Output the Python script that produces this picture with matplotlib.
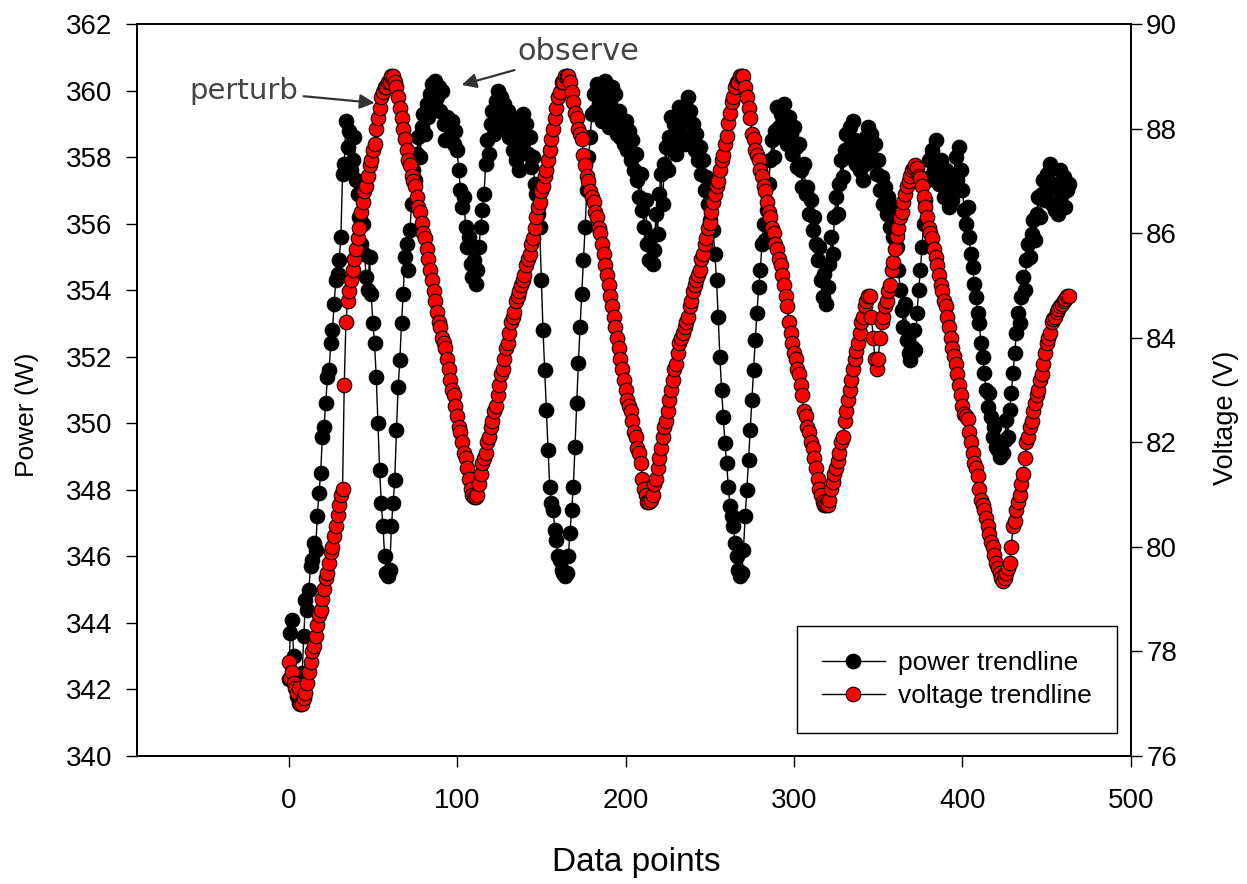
"""Power / voltage trendlines of a perturb-and-observe MPPT run."""

import matplotlib

matplotlib.use("Agg")
import matplotlib.pyplot as plt

NARROW = ["Liberation Sans Narrow", "Liberation Sans", "DejaVu Sans"]
REGULAR = ["Liberation Sans", "DejaVu Sans"]

# power (W), one value per data point
POWER = [
    342.3, 343.7, 344.1, 343.0, 342.2, 341.8, 341.6, 341.7, 342.5, 343.6,
    344.7, 344.4, 345.0, 345.7, 345.9, 346.4, 346.2, 347.2, 347.9, 348.5,
    349.6, 349.9, 350.6, 351.4, 351.6, 352.4, 352.8, 353.6, 354.3, 354.5,
    354.9, 355.6, 357.5, 357.8, 359.1, 358.3, 358.8, 357.6, 357.9, 358.6,
    357.3, 356.9, 356.2, 355.4, 356.0, 355.1, 354.4, 354.0, 355.0, 353.9,
    353.0, 352.4, 351.4, 350.0, 348.6, 347.6, 346.9, 346.0, 345.5, 345.4,
    345.6, 346.9, 347.6, 348.3, 349.8, 351.1, 351.9, 353.0, 353.9, 355.0,
    355.4, 354.6, 355.8, 356.6, 357.6, 357.3, 358.1, 358.6, 358.0, 358.9,
    359.3, 358.7, 359.6, 359.2, 359.9, 360.2, 359.5, 360.3, 359.8, 360.1,
    359.4, 360.0, 359.0, 358.5, 359.2, 359.0, 358.6, 359.1, 358.4, 358.8,
    358.2, 357.6, 357.0, 356.5, 356.8, 355.9, 355.3, 355.6, 354.8, 354.4,
    354.9, 354.2, 354.6, 355.3, 355.9, 356.4, 356.9, 357.8, 358.5, 358.1,
    359.0, 359.4, 358.7, 359.7, 360.0, 359.2, 359.8, 359.1, 359.6, 358.9,
    359.4, 358.6, 359.2, 358.2, 358.8, 357.9, 358.4, 357.6, 358.9, 359.3,
    358.5, 359.0, 358.1, 358.6, 357.7, 358.0, 357.2, 356.9, 356.3, 355.9,
    354.3, 352.8, 351.6, 350.4, 349.2, 348.1, 347.6, 347.4, 346.8, 346.5,
    346.0, 345.9, 345.6, 345.5, 345.4, 345.5, 346.0, 346.7, 347.4, 348.1,
    349.3, 350.6, 351.8, 352.9, 353.9, 354.9, 355.9, 357.0, 358.0, 358.6,
    359.3, 359.9, 359.4, 360.2, 359.6, 360.0, 359.1, 359.8, 360.3, 359.5,
    358.9, 359.7, 360.1, 359.2, 359.9, 358.7, 359.4, 358.6, 359.0, 358.4,
    359.1, 358.2, 358.8, 357.9, 358.5, 357.6, 358.1, 357.3, 356.8, 357.5,
    356.4, 355.9, 356.7, 355.4, 354.9, 355.6, 354.8, 355.2, 356.3, 355.7,
    356.9, 357.5, 356.6, 357.8, 358.3, 357.6, 358.6, 359.2, 358.5, 359.0,
    358.1, 358.8, 359.5, 358.7, 359.3, 358.4, 359.1, 359.8, 359.4, 358.6,
    359.0, 358.2, 358.7, 357.9, 358.3, 357.5, 357.9, 357.0, 357.4, 356.6,
    356.1, 356.8, 355.8, 355.1, 354.3, 353.2, 352.0, 351.0, 350.2, 349.4,
    348.8, 348.1, 347.5, 347.2, 346.9, 346.4, 346.0, 345.6, 345.4, 345.5,
    346.2, 347.2, 348.0, 348.9, 349.8, 350.7, 351.6, 352.5, 353.3, 354.1,
    354.6, 355.4, 356.0, 355.5, 356.4, 357.2, 357.9, 358.5, 358.0, 358.8,
    359.5, 358.9, 359.3, 358.6, 359.6, 359.0, 358.4, 359.2, 358.7, 358.1,
    358.9, 358.3, 357.7, 358.4, 357.6, 357.1, 357.8, 356.9, 357.1, 356.3,
    356.7, 355.8, 356.2, 355.4, 354.9, 355.3, 354.3, 353.8, 354.5, 353.6,
    354.1, 354.8, 355.6, 355.1, 356.2, 356.8, 356.3, 357.2, 357.9, 357.4,
    358.2, 358.7, 358.0, 358.9, 358.4, 359.1, 358.5, 357.8, 358.3, 357.6,
    358.0, 357.3, 357.8, 358.6, 358.9, 358.2, 358.7, 357.9, 358.4, 357.5,
    357.9, 357.0, 357.4, 356.6, 357.1, 356.3, 356.8, 355.9, 356.5, 355.6,
    356.2, 355.3, 354.6, 354.0, 353.4, 352.9, 353.6, 352.5, 352.1, 351.9,
    352.3, 352.8, 352.2, 353.3, 354.0, 354.6, 355.3, 356.0, 356.7, 357.3,
    357.9, 357.4, 358.2, 357.6, 358.5, 357.8, 357.2, 357.9, 357.3, 356.8,
    357.6, 357.0, 356.5, 357.2, 356.7, 357.5, 358.0, 357.3, 358.3, 357.6,
    357.0, 356.4, 356.0, 356.5, 355.6, 355.1, 354.7, 354.2, 353.8, 353.3,
    353.0, 352.4, 352.0, 351.5, 351.0, 350.5, 350.9, 350.2, 349.6, 349.9,
    349.3, 349.2, 349.0, 349.4, 349.1, 349.5, 350.1, 349.6, 350.4, 350.9,
    351.5, 352.1, 352.7, 353.3, 353.0, 353.8, 354.4, 354.0, 354.9, 355.4,
    355.0, 355.7, 356.1, 355.5, 356.3, 356.8, 356.2, 356.9, 357.3, 356.7,
    357.5, 357.0, 357.8, 356.6, 357.2, 356.4, 357.1, 356.3, 357.6, 356.9,
    357.4, 356.5, 357.0, 357.2,
]

# voltage (V), one value per data point
VOLTAGE = [
    77.8, 77.5, 77.6, 77.4, 77.3, 77.2, 77.3, 77.0, 77.0, 77.1,
    77.2, 77.4, 77.6, 77.8, 78.0, 78.1, 78.3, 78.5, 78.7, 78.8,
    79.0, 79.2, 79.4, 79.5, 79.7, 79.9, 80.0, 80.2, 80.4, 80.6,
    80.8, 81.0, 81.1, 83.1, 84.3, 84.7, 84.9, 85.1, 85.3, 85.5,
    85.7, 85.9, 86.1, 86.4, 86.6, 86.8, 86.9, 87.1, 87.3, 87.4,
    87.6, 87.7, 88.0, 88.2, 88.4, 88.6, 88.7, 88.8, 88.8, 88.9,
    88.9, 89.0, 89.0, 88.9, 88.8, 88.6, 88.4, 88.2, 88.0, 87.8,
    87.6, 87.4, 87.3, 87.1, 87.0, 86.9, 86.7, 86.5, 86.4, 86.2,
    86.0, 85.9, 85.7, 85.5, 85.3, 85.1, 84.9, 84.7, 84.5, 84.3,
    84.2, 84.0, 83.9, 83.8, 83.6, 83.4, 83.2, 83.0, 82.9, 82.7,
    82.5, 82.3, 82.2, 82.0, 81.8, 81.7, 81.5, 81.3, 81.1, 81.0,
    80.95, 80.95, 81.0, 81.2, 81.4, 81.6, 81.7, 81.8, 82.0, 82.1,
    82.3, 82.4, 82.6, 82.7, 82.9, 83.1, 83.3, 83.4, 83.6, 83.8,
    83.9, 84.1, 84.3, 84.4, 84.5, 84.7, 84.8, 84.9, 85.0, 85.1,
    85.2, 85.4, 85.5, 85.6, 85.8, 85.9, 86.1, 86.3, 86.5, 86.6,
    86.8, 86.9, 87.1, 87.2, 87.4, 87.6, 87.8, 88.0, 88.2, 88.4,
    88.6, 88.7, 88.9, 88.9, 89.0, 89.0, 89.0, 88.9, 88.7, 88.5,
    88.3, 88.2, 88.0, 87.9, 87.8, 87.5, 87.3, 87.1, 87.0, 86.8,
    86.7, 86.6, 86.4, 86.3, 86.1, 86.0, 85.8, 85.6, 85.4, 85.2,
    85.0, 84.8, 84.6, 84.4, 84.2, 84.0, 83.8, 83.6, 83.4, 83.2,
    83.0, 82.8, 82.7, 82.6, 82.4, 82.2, 82.1, 81.9, 81.8, 81.6,
    81.3, 81.1, 81.0, 80.85, 80.85, 80.9, 81.0, 81.2, 81.3, 81.5,
    81.7, 81.9, 82.1, 82.3, 82.4, 82.6, 82.8, 83.0, 83.2, 83.4,
    83.5, 83.7, 83.9, 84.0, 84.1, 84.2, 84.3, 84.4, 84.6, 84.7,
    84.9, 85.0, 85.1, 85.2, 85.3, 85.5, 85.6, 85.8, 85.9, 86.1,
    86.2, 86.4, 86.6, 86.75, 86.9, 87.0, 87.2, 87.4, 87.5, 87.7,
    87.85, 88.1, 88.3, 88.5, 88.6, 88.8, 88.9, 88.9, 89.0, 89.0,
    89.0, 88.8, 88.6, 88.4, 88.2, 87.9, 87.8, 87.6, 87.5, 87.4,
    87.2, 87.1, 86.9, 86.8, 86.6, 86.4, 86.3, 86.1, 86.0, 85.8,
    85.7, 85.5, 85.4, 85.2, 85.0, 84.8, 84.6, 84.3, 84.1, 83.9,
    83.7, 83.6, 83.4, 83.3, 83.1, 82.9, 82.6, 82.5, 82.3, 82.2,
    82.0, 81.9, 81.7, 81.5, 81.3, 81.1, 81.0, 80.85, 80.8, 80.8,
    80.8, 80.9, 81.1, 81.25, 81.4, 81.5, 81.65, 81.8, 82.0, 82.1,
    82.4, 82.6, 82.8, 83.0, 83.2, 83.4, 83.6, 83.75, 83.9, 84.1,
    84.3, 84.4, 84.6, 84.7, 84.8, 84.8, 84.4, 84.0, 83.6, 83.4,
    83.6, 84.0, 84.3, 84.4, 84.6, 84.7, 84.9, 85.0, 85.3, 85.45,
    85.7, 85.95, 86.1, 86.3, 86.4, 86.6, 86.75, 86.9, 87.0, 87.1,
    87.2, 87.25, 87.3, 87.25, 87.1, 87.05, 86.9, 86.7, 86.5, 86.3,
    86.1, 86.0, 85.9, 85.7, 85.55, 85.4, 85.2, 85.0, 84.9, 84.7,
    84.6, 84.4, 84.2, 84.0, 83.8, 83.65, 83.5, 83.3, 83.1, 82.9,
    82.7, 82.55, 82.5, 82.45, 82.2, 82.0, 81.8, 81.6, 81.5, 81.35,
    81.1, 80.9, 80.8, 80.7, 80.55, 80.4, 80.25, 80.1, 80.0, 79.85,
    79.7, 79.6, 79.5, 79.4, 79.35, 79.4, 79.5, 79.6, 79.7, 80.0,
    80.4, 80.5, 80.7, 80.85, 81.0, 81.2, 81.4, 81.7, 82.0, 82.1,
    82.3, 82.4, 82.6, 82.75, 82.9, 83.0, 83.2, 83.3, 83.5, 83.7,
    83.9, 84.0, 84.1, 84.3, 84.35, 84.4, 84.5, 84.55, 84.6, 84.65,
    84.7, 84.75, 84.8, 84.8,
]

DATA_POINTS = list(range(len(VOLTAGE)))

X_TICKS = [0, 100, 200, 300, 400, 500]
POWER_TICKS = list(range(340, 363, 2))
VOLTAGE_TICKS = list(range(76, 91, 2))


def plot() -> None:
    fig = plt.figure(figsize=(12.47, 8.84), dpi=100)
    ax = fig.add_axes([0.1099, 0.1448, 0.797, 0.828])

    (p_line,) = ax.plot(
        DATA_POINTS, POWER, "-o", color="black", lw=1.0,
        ms=10.5, mfc="black", mec="black", mew=0.8, label="power trendline",
    )
    ax.set_xlim(-90, 500)
    ax.set_ylim(340, 362)
    ax.set_xticks(X_TICKS)
    ax.set_yticks(POWER_TICKS)

    ax2 = ax.twinx()
    (v_line,) = ax2.plot(
        DATA_POINTS, VOLTAGE, "-o", color="black", lw=1.0,
        ms=10.5, mfc="red", mec="black", mew=0.8, label="voltage trendline",
    )
    ax2.set_ylim(76, 90)
    ax2.set_yticks(VOLTAGE_TICKS)

    for a in (ax, ax2):
        for sp in a.spines.values():
            sp.set_linewidth(1.3)
    ax.tick_params(axis="x", direction="out", length=8, width=1, pad=15, labelsize=20)
    ax.tick_params(axis="y", direction="out", length=8, width=1, pad=10, labelsize=20)
    ax2.tick_params(axis="y", direction="out", length=8, width=1, pad=3, labelsize=20)
    for lab in ax.get_xticklabels() + ax.get_yticklabels() + ax2.get_yticklabels():
        lab.set_family(NARROW)

    ax.set_xlabel("Data points", family=NARROW, fontsize=24, va="center")
    ax.xaxis.set_label_coords(0.502, -0.146)
    ax.set_ylabel("Power (W)", family=NARROW, fontsize=19, va="center")
    ax.yaxis.set_label_coords(-0.111, 0.466)
    ax2.set_ylabel("Voltage (V)", family=NARROW, fontsize=19.5, va="center",
                   rotation=90)
    ax2.yaxis.set_label_coords(1.096, 0.462)

    arrow = dict(arrowstyle="-|>", color="#333333", lw=1.6, mutation_scale=22,
                 shrinkA=2, shrinkB=0)
    ax.annotate("perturb", xy=(51, 359.63), xytext=(-59, 360.0),
                ha="left", va="center", fontsize=21, color="#444444",
                family="DejaVu Sans", arrowprops=arrow)
    ax.annotate("observe", xy=(102.7, 360.17), xytext=(136, 361.16),
                ha="left", va="center", fontsize=22, color="#444444",
                family="DejaVu Sans", arrowprops=arrow)

    leg = ax2.legend(
        [p_line, v_line], ["power trendline", "voltage trendline"],
        loc="lower right", bbox_to_anchor=(0.986, 0.031), borderaxespad=0,
        prop={"family": REGULAR, "size": 19}, frameon=True, fancybox=False,
        framealpha=1, edgecolor="black", numpoints=1, handlelength=2.4,
        handletextpad=0.5, labelspacing=0.35, borderpad=0.95,
    )
    leg.get_frame().set_linewidth(1.0)

    fig.savefig("out.png", dpi=100)


if __name__ == "__main__":
    plot()
